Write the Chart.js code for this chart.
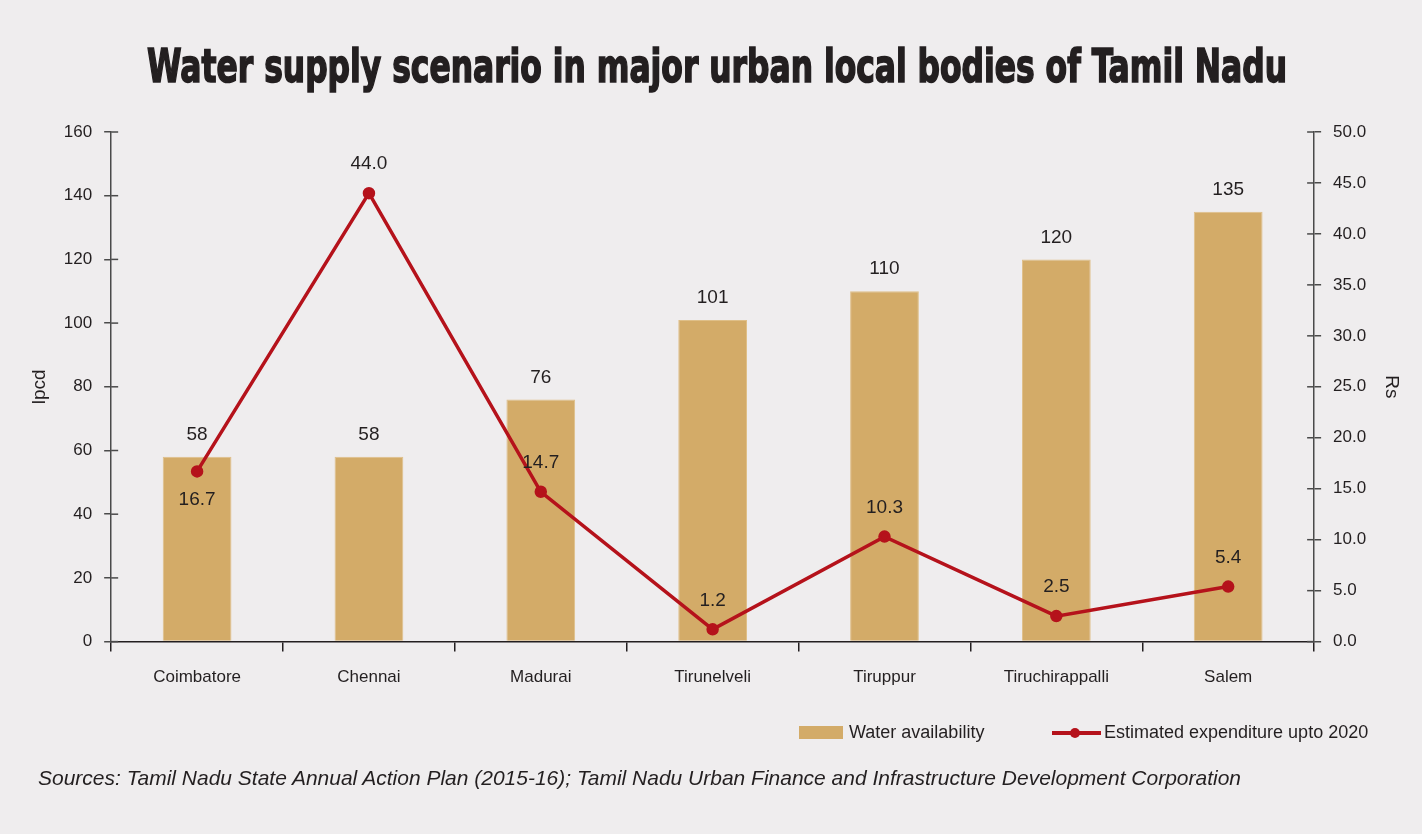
<!DOCTYPE html>
<html>
<head>
<meta charset="utf-8">
<script src="https://cdn.jsdelivr.net/npm/chart.js@4"></script>
<style>
  html, body { margin: 0; padding: 0; background: #efedee; }
  #wrap { position: relative; width: 1422px; height: 834px; overflow: hidden; }
  #chart { position: absolute; left: 0; top: 0; }
  #titleText {
    position: absolute; left: 717px; top: 40px; white-space: nowrap;
    font-family: "DejaVu Sans Condensed", "DejaVu Sans", sans-serif;
    font-weight: bold; font-size: 46px; color: #231f20; line-height: 52px;
    -webkit-text-stroke: 1.6px #231f20; transform-origin: 0 0;
  }
  .legend { position: absolute; top: 721px; font-family: "Liberation Sans", sans-serif;
    font-size: 18px; color: #231f20; line-height: 22px; }
  .box { position: absolute; top: 5px; left: 0; width: 44px; height: 13px; background: #d3ab68; }
  .ln { position: absolute; top: 10px; left: 0; width: 49px; height: 4px; background: #b5121b; }
  .dot { position: absolute; top: 7px; left: 18px; width: 10px; height: 10px; border-radius: 50%; background: #b5121b; }
  #source { position: absolute; left: 38px; top: 766px; font-family: "Liberation Sans", sans-serif;
    font-style: italic; font-size: 21px; color: #231f20; white-space: nowrap; transform-origin: 0 0; }
</style>
</head>
<body>
<div id="wrap">
  <canvas id="chart" width="1422" height="834"></canvas>
  <div id="titleText">Water supply scenario in major urban local bodies of Tamil Nadu</div>
  <div class="legend" style="left:799px;"><div class="box"></div><span style="margin-left:50px;">Water availability</span></div>
  <div class="legend" style="left:1052px;"><div class="ln"></div><div class="dot"></div><span style="margin-left:52px;">Estimated expenditure upto 2020</span></div>
  <div id="source">Sources: Tamil Nadu State Annual Action Plan (2015-16); Tamil Nadu Urban Finance and Infrastructure Development Corporation</div>
</div>
<script>
const cities = ["Coimbatore", "Chennai", "Madurai", "Tirunelveli", "Tiruppur", "Tiruchirappalli", "Salem"];
const waterLpcd = [58, 58, 76, 101, 110, 120, 135];
const expenditureRs = [16.7, 44.0, 14.7, 1.2, 10.3, 2.5, 5.4];

const ink = "#231f20";
const font = "Liberation Sans";

// squeeze the title and source line to the reference widths
const t = document.getElementById("titleText");
const tw = t.getBoundingClientRect().width;
t.style.transform = "scaleX(" + (1140 / tw) + ") translateX(-50%)";
const src = document.getElementById("source");
const sw = src.getBoundingClientRect().width;
src.style.transform = "scaleX(" + (1203 / sw) + ")";

const labelPlugin = {
  id: "valueLabels",
  afterDatasetsDraw(chart) {
    const ctx = chart.ctx;
    ctx.save();
    ctx.font = "19px '" + font + "'";
    ctx.fillStyle = ink;
    ctx.textAlign = "center";
    ctx.textBaseline = "middle";
    chart.getDatasetMeta(0).data.forEach((bar, i) => {
      ctx.fillText(waterLpcd[i], bar.x, bar.y - 22);
    });
    chart.getDatasetMeta(1).data.forEach((pt, i) => {
      const dy = i === 0 ? 28 : -29;
      ctx.fillText(expenditureRs[i].toFixed(1), pt.x, pt.y + dy);
    });
    ctx.restore();
  },
  afterDraw(chart) {
    // small tick marks that cross the axis into the plot
    const ctx = chart.ctx;
    ctx.save();
    ctx.strokeStyle = "#4a4a4a";
    ctx.lineWidth = 1.5;
    ["y", "y1"].forEach(id => {
      const s = chart.scales[id];
      const x0 = id === "y" ? s.right : s.left;
      const dir = id === "y" ? 1 : -1;
      s.ticks.forEach(tk => {
        const y = s.getPixelForValue(tk.value);
        ctx.beginPath();
        ctx.moveTo(x0, y);
        ctx.lineTo(x0 + dir * 7, y);
        ctx.stroke();
      });
    });
    ctx.restore();
  }
};

new Chart(document.getElementById("chart"), {
  data: {
    labels: cities,
    datasets: [{
      type: "bar",
      label: "Water availability",
      data: waterLpcd,
      backgroundColor: "#d3ab68",
      borderColor: "#dfbf88",
      borderWidth: 1,
      barPercentage: 0.4,
      categoryPercentage: 1,
      yAxisID: "y",
      order: 2
    }, {
      type: "line",
      label: "Estimated expenditure upto 2020",
      data: expenditureRs,
      borderColor: "#b5121b",
      backgroundColor: "#b5121b",
      borderWidth: 3.5,
      pointRadius: 4.5,
      pointHoverRadius: 4.5,
      tension: 0,
      yAxisID: "y1",
      order: 1
    }]
  },
  options: {
    responsive: false,
    animation: false,
    layout: { padding: { top: 132, bottom: 130, left: 28, right: 19 } },
    plugins: {
      legend: { display: false },
      tooltip: { enabled: false }
    },
    scales: {
      x: {
        grid: { display: true, drawOnChartArea: false, offset: true, tickLength: 10, color: ink, lineWidth: 1.5 },
        border: { color: ink, width: 1.5 },
        ticks: { color: ink, font: { family: font, size: 17 }, padding: 16 }
      },
      y: {
        position: "left",
        min: 0, max: 160,
        ticks: { stepSize: 20, color: ink, font: { family: font, size: 17 }, padding: 12 },
        grid: { drawOnChartArea: false, tickLength: 7, color: "#4a4a4a", lineWidth: 1.5 },
        border: { color: "#4a4a4a", width: 1.5 },
        title: { display: true, text: "lpcd", color: ink, font: { family: font, size: 19 }, padding: { top: 0, bottom: 1 } }
      },
      y1: {
        position: "right",
        min: 0, max: 50,
        ticks: { stepSize: 5, color: ink, font: { family: font, size: 17 }, padding: 12,
          callback: v => v.toFixed(1) },
        grid: { drawOnChartArea: false, tickLength: 7, color: "#4a4a4a", lineWidth: 1.5 },
        border: { color: "#4a4a4a", width: 1.5 },
        title: { display: true, text: "Rs", color: ink, font: { family: font, size: 19 }, padding: { top: 0, bottom: 2 } }
      }
    }
  },
  plugins: [labelPlugin]
});
</script>
</body>
</html>
